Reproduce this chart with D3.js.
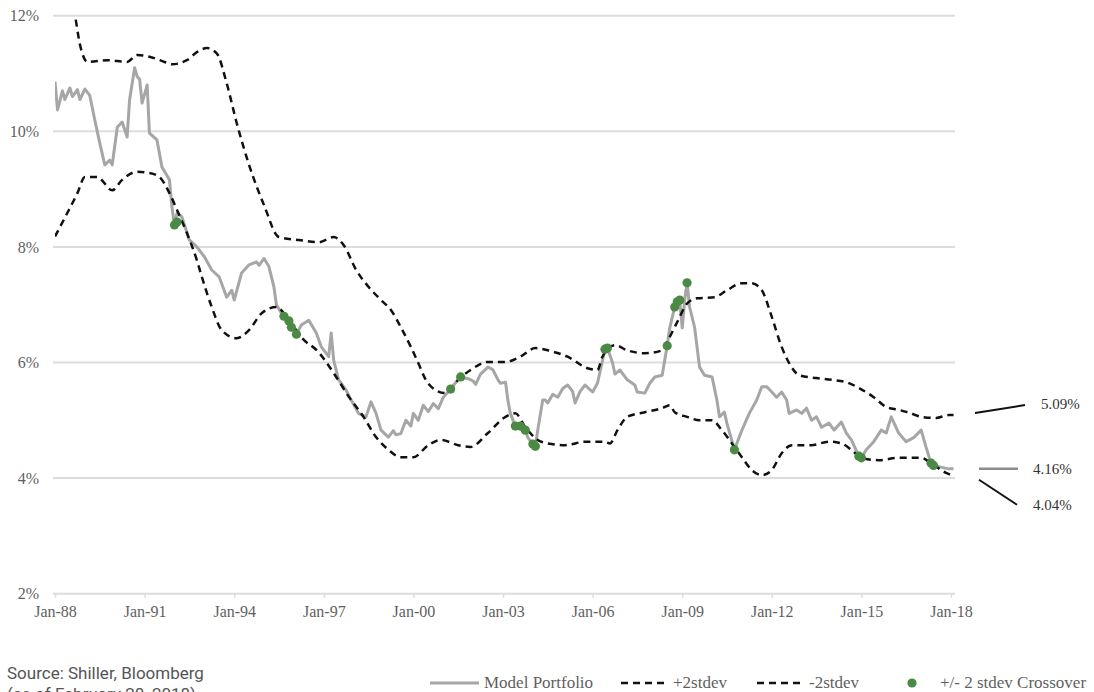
<!DOCTYPE html>
<html>
<head>
<meta charset="utf-8">
<script src="https://cdn.jsdelivr.net/npm/d3@7"></script>
<style>
  html, body { margin: 0; padding: 0; background: #fff; }
  svg { display: block; }
</style>
</head>
<body>
<svg id="chart" width="1094" height="692"></svg>
<script>
// Model portfolio yield (monthly, %)
const modelPortfolio = [
  ["1988-01",10.86],["1988-02",10.37],["1988-04",10.70],["1988-05",10.55],["1988-07",10.75],
  ["1988-08",10.60],["1988-10",10.72],["1988-11",10.55],["1989-01",10.73],["1989-03",10.62],
  ["1989-05",10.20],["1989-07",9.80],["1989-09",9.42],["1989-11",9.50],["1989-12",9.42],
  ["1990-02",10.07],["1990-04",10.16],["1990-06",9.90],["1990-07",10.54],["1990-09",11.10],
  ["1990-10",10.95],["1990-11",10.90],["1990-12",10.49],["1991-02",10.80],["1991-03",9.97],
  ["1991-06",9.85],["1991-08",9.38],["1991-11",9.16],["1991-12",8.69],["1992-01",8.38],
  ["1992-02",8.58],["1992-04",8.52],["1992-07",8.12],["1992-10",8.00],["1993-01",7.83],
  ["1993-04",7.60],["1993-07",7.48],["1993-10",7.13],["1993-12",7.25],["1994-01",7.08],
  ["1994-04",7.55],["1994-07",7.69],["1994-10",7.74],["1994-11",7.68],["1995-01",7.80],
  ["1995-03",7.66],["1995-05",7.31],["1995-06",7.00],["1995-08",6.85],["1995-09",6.80],
  ["1995-11",6.72],["1995-12",6.61],["1996-02",6.49],["1996-04",6.65],["1996-07",6.73],
  ["1996-10",6.51],["1996-12",6.27],["1997-03",6.10],["1997-04",6.51],["1997-05",6.04],
  ["1997-07",5.70],["1997-10",5.52],["1997-12",5.35],["1998-03",5.12],["1998-06",5.06],
  ["1998-08",5.32],["1998-10",5.12],["1998-12",4.83],["1999-03",4.71],["1999-05",4.82],
  ["1999-06",4.75],["1999-08",4.77],["1999-10",5.00],["1999-12",4.90],["2000-01",5.12],
  ["2000-03",5.00],["2000-05",5.26],["2000-07",5.15],["2000-09",5.29],["2000-11",5.20],
  ["2001-01",5.40],["2001-04",5.54],["2001-05",5.60],["2001-08",5.75],["2001-11",5.72],
  ["2002-01",5.68],["2002-02",5.62],["2002-04",5.80],["2002-07",5.92],["2002-08",5.90],
  ["2002-09",5.87],["2002-11",5.70],["2002-12",5.64],["2003-02",5.66],["2003-03",5.35],
  ["2003-04",5.12],["2003-06",4.90],["2003-08",4.90],["2003-10",4.83],["2003-11",4.70],
  ["2004-01",4.59],["2004-02",4.55],["2004-03",4.83],["2004-05",5.35],["2004-06",5.35],
  ["2004-07",5.30],["2004-09",5.45],["2004-11",5.40],["2005-01",5.55],["2005-03",5.61],
  ["2005-05",5.50],["2005-06",5.30],["2005-08",5.50],["2005-10",5.61],["2006-01",5.49],
  ["2006-03",5.64],["2006-06",6.23],["2006-07",6.25],["2006-09",6.00],["2006-10",5.80],
  ["2006-12",5.87],["2007-03",5.70],["2007-06",5.61],["2007-07",5.49],["2007-10",5.47],
  ["2007-12",5.64],["2008-02",5.75],["2008-05",5.78],["2008-07",6.29],["2008-08",6.60],
  ["2008-10",6.96],["2008-11",7.05],["2008-12",7.08],["2009-01",6.60],["2009-02",7.10],
  ["2009-03",7.38],["2009-04",6.96],["2009-06",6.61],["2009-08",5.92],["2009-10",5.78],
  ["2010-01",5.75],["2010-03",5.35],["2010-04",5.06],["2010-06",5.14],["2010-07",4.95],
  ["2010-10",4.49],["2011-01",4.83],["2011-04",5.12],["2011-07",5.35],["2011-09",5.58],
  ["2011-11",5.58],["2012-01",5.49],["2012-03",5.40],["2012-05",5.49],["2012-07",5.35],
  ["2012-08",5.12],["2012-11",5.18],["2013-01",5.12],["2013-03",5.21],["2013-05",5.00],
  ["2013-07",5.06],["2013-09",4.88],["2013-12",4.95],["2014-02",4.83],["2014-05",4.97],
  ["2014-07",4.78],["2014-09",4.66],["2014-12",4.38],["2015-01",4.35],["2015-03",4.49],
  ["2015-06",4.63],["2015-09",4.83],["2015-11",4.78],["2016-01",5.06],["2016-04",4.78],
  ["2016-07",4.63],["2016-10",4.70],["2017-01",4.83],["2017-03",4.54],["2017-05",4.26],
  ["2017-06",4.22],["2017-09",4.19],["2017-12",4.16],["2018-02",4.16]
];

// Upper band: +2 standard deviations (%)
const plus2Stdev = [
  ["1988-01",12.90],["1988-05",12.45],["1988-09",12.00],["1988-11",11.50],["1989-02",11.20],
  ["1989-10",11.23],["1990-06",11.20],["1990-10",11.32],["1991-03",11.29],["1991-09",11.20],
  ["1991-12",11.16],["1992-06",11.23],["1992-10",11.37],["1993-02",11.44],["1993-06",11.35],
  ["1993-10",10.83],["1994-02",10.14],["1994-07",9.42],["1995-01",8.72],["1995-07",8.17],
  ["1996-03",8.12],["1996-11",8.08],["1997-05",8.17],["1997-09",8.03],["1998-02",7.60],
  ["1998-07",7.31],["1998-12",7.08],["1999-04",6.91],["1999-08",6.61],["1999-12",6.27],
  ["2000-03",5.99],["2000-06",5.70],["2000-10",5.52],["2001-02",5.47],["2001-07",5.70],
  ["2001-12",5.87],["2002-07",6.01],["2003-02",6.01],["2003-08",6.10],["2004-02",6.25],
  ["2004-08",6.20],["2005-03",6.10],["2005-11",5.90],["2006-03",5.87],["2006-05",6.10],
  ["2006-10",6.30],["2007-03",6.21],["2007-10",6.16],["2008-05",6.21],["2008-07",6.36],
  ["2008-11",6.70],["2009-03",7.02],["2009-07",7.11],["2010-02",7.13],["2010-07",7.25],
  ["2011-01",7.37],["2011-05",7.37],["2011-09",7.25],["2012-01",6.79],["2012-05",6.27],
  ["2012-08",5.99],["2012-12",5.78],["2013-07",5.73],["2014-01",5.70],["2014-07",5.66],
  ["2014-12",5.56],["2015-06",5.40],["2015-11",5.23],["2016-04",5.18],["2016-09",5.12],
  ["2017-01",5.06],["2017-07",5.04],["2017-12",5.09],["2018-02",5.09]
];

// Lower band: -2 standard deviations (%)
const minus2Stdev = [
  ["1988-01",8.18],["1988-06",8.59],["1988-10",8.93],["1989-01",9.21],["1989-06",9.21],
  ["1989-12",8.98],["1990-04",9.16],["1990-10",9.30],["1991-03",9.28],["1991-07",9.21],
  ["1991-11",8.93],["1992-02",8.64],["1992-06",8.24],["1992-10",7.77],["1992-12",7.48],
  ["1993-04",6.96],["1993-08",6.56],["1994-02",6.42],["1994-07",6.56],["1994-12",6.85],
  ["1995-06",6.96],["1995-11",6.73],["1996-05",6.39],["1996-10",6.22],["1997-06",5.75],
  ["1997-11",5.41],["1998-05",5.06],["1998-10",4.71],["1999-03",4.49],["1999-08",4.36],
  ["2000-01",4.36],["2000-07",4.57],["2000-12",4.66],["2001-07",4.57],["2001-12",4.54],
  ["2002-07",4.78],["2003-02",5.06],["2003-06",5.12],["2003-10",4.88],["2004-03",4.66],
  ["2004-07",4.60],["2005-02",4.57],["2005-10",4.63],["2006-06",4.63],["2006-08",4.60],
  ["2006-11",4.83],["2007-03",5.06],["2007-10",5.14],["2008-05",5.21],["2008-08",5.26],
  ["2008-10",5.14],["2009-03",5.06],["2009-08",5.00],["2010-01",5.00],["2010-05",4.83],
  ["2010-09",4.60],["2011-01",4.36],["2011-05",4.14],["2011-09",4.05],["2012-01",4.14],
  ["2012-05",4.43],["2012-09",4.57],["2013-05",4.57],["2013-12",4.63],["2014-05",4.60],
  ["2014-09",4.49],["2015-01",4.35],["2015-08",4.31],["2016-04",4.35],["2017-01",4.35],
  ["2017-05",4.26],["2017-11",4.09],["2018-02",4.04]
];

// Months where the portfolio crosses a +/- 2 stdev band
const crossovers = [
  ["1992-01",8.38],["1992-02",8.43],["1995-09",6.80],["1995-11",6.72],["1995-12",6.61],
  ["1996-02",6.49],["2001-04",5.54],["2001-08",5.75],["2003-06",4.90],["2003-08",4.90],
  ["2003-10",4.83],["2004-01",4.59],["2004-02",4.55],["2006-06",6.23],["2006-07",6.25],
  ["2008-07",6.29],["2008-10",6.96],["2008-11",7.05],["2008-12",7.08],["2009-03",7.38],
  ["2010-10",4.49],["2014-12",4.38],["2015-01",4.35],["2017-05",4.26],["2017-06",4.22]
];

const yTicks = [2, 4, 6, 8, 10, 12];
const xTickLabels = ["Jan-88","Jan-91","Jan-94","Jan-97","Jan-00","Jan-03","Jan-06","Jan-09","Jan-12","Jan-15","Jan-18"];
const latestValues = { plus: 5.09, model: 4.16, minus: 4.04 };
const legendLabels = ["Model Portfolio", "+2stdev", "-2stdev", "+/- 2 stdev Crossover"];

const parseMonth = d3.timeParse("%Y-%m");
const parseTick = d3.timeParse("%b-%y");
const toPoints = arr => arr.map(([m, v]) => ({ date: parseMonth(m), value: v }));

const model = toPoints(modelPortfolio);
const upper = toPoints(plus2Stdev);
const lower = toPoints(minus2Stdev);
const cross = toPoints(crossovers);

const svg = d3.select("#chart");
const plotLeft = 55, plotRight = 951, plotTop = 15.7, plotBottom = 593.7, gridEnd = 955;

const x = d3.scaleTime()
  .domain([new Date(1988, 0, 1), new Date(2018, 0, 1)])
  .range([plotLeft, plotRight]);
const y = d3.scaleLinear().domain([2, 12]).range([plotBottom, plotTop]);

const serif = "'Liberation Serif', 'Times New Roman', serif";
const grey = "#5f5f5f";

// Gridlines
svg.append("g").selectAll("line").data(yTicks).join("line")
  .attr("x1", plotLeft - 2).attr("x2", gridEnd)
  .attr("y1", d => y(d)).attr("y2", d => y(d))
  .attr("stroke", "#dcdcdc").attr("stroke-width", 2);

// Y axis labels
const yAxis = d3.axisLeft(y).tickValues(yTicks).tickSize(0).tickPadding(0)
  .tickFormat(d => d + "%");
svg.append("g").attr("transform", "translate(39,0)").call(yAxis)
  .call(g => g.select(".domain").remove())
  .selectAll("text")
  .attr("font-family", serif).attr("font-size", 16).attr("fill", grey);

// X axis labels every three years
const xTickDates = xTickLabels.map(parseTick);
const xAxis = d3.axisBottom(x).tickValues(xTickDates).tickSize(4).tickPadding(8)
  .tickFormat(d3.timeFormat("%b-%y"));
svg.append("g").attr("transform", `translate(0,${plotBottom})`).call(xAxis)
  .call(g => g.select(".domain").remove())
  .call(g => g.selectAll("line").attr("stroke", "#dcdcdc").attr("stroke-width", 1.5))
  .selectAll("text")
  .attr("font-family", serif).attr("font-size", 16).attr("fill", grey);

// Plot clip
svg.append("clipPath").attr("id", "plotClip")
  .append("rect").attr("x", plotLeft).attr("y", plotTop)
  .attr("width", gridEnd - plotLeft).attr("height", plotBottom - plotTop);

const plot = svg.append("g").attr("clip-path", "url(#plotClip)");

const smooth = d3.line().x(d => x(d.date)).y(d => y(d.value)).curve(d3.curveMonotoneX);
const jagged = d3.line().x(d => x(d.date)).y(d => y(d.value));

plot.append("path").datum(model)
  .attr("d", jagged).attr("fill", "none")
  .attr("stroke", "#a6a6a6").attr("stroke-width", 3).attr("stroke-linejoin", "round");

[upper, lower].forEach(band => {
  plot.append("path").datum(band)
    .attr("d", smooth).attr("fill", "none")
    .attr("stroke", "#111").attr("stroke-width", 2.5)
    .attr("stroke-dasharray", "7,5");
});

plot.append("g").selectAll("circle").data(cross).join("circle")
  .attr("cx", d => x(d.date)).attr("cy", d => y(d.value)).attr("r", 4.6)
  .attr("fill", "#4a8a45");

// Latest value call-outs
const callouts = svg.append("g").attr("font-family", serif).attr("font-size", 15).attr("fill", "#333");
const yPlus = y(latestValues.plus), yModel = y(latestValues.model), yMinus = y(latestValues.minus);
callouts.append("line").attr("x1", 975).attr("y1", yPlus - 2).attr("x2", 1025).attr("y2", yPlus - 10)
  .attr("stroke", "#111").attr("stroke-width", 2);
callouts.append("text").attr("x", 1041).attr("y", yPlus - 6).text(latestValues.plus.toFixed(2) + "%");
callouts.append("line").attr("x1", 979).attr("y1", yModel).attr("x2", 1018).attr("y2", yModel)
  .attr("stroke", "#8c8c8c").attr("stroke-width", 2.5);
callouts.append("text").attr("x", 1033).attr("y", yModel + 5).text(latestValues.model.toFixed(2) + "%");
callouts.append("line").attr("x1", 979).attr("y1", yMinus + 4).attr("x2", 1017).attr("y2", yMinus + 29)
  .attr("stroke", "#111").attr("stroke-width", 2);
callouts.append("text").attr("x", 1033).attr("y", yMinus + 34).text(latestValues.minus.toFixed(2) + "%");

// Source note
svg.append("text").attr("x", 7).attr("y", 679)
  .attr("font-family", "Roboto, sans-serif").attr("font-size", 17).attr("fill", "#555")
  .text("Source: Shiller, Bloomberg");
svg.append("text").attr("x", 7).attr("y", 700)
  .attr("font-family", "Roboto, sans-serif").attr("font-size", 17).attr("fill", "#555")
  .text("(as of February 28, 2018)");

// Legend
const legend = svg.append("g").attr("font-family", serif).attr("font-size", 17).attr("fill", grey);
const ly = 683;
legend.append("line").attr("x1", 430).attr("x2", 479).attr("y1", ly).attr("y2", ly)
  .attr("stroke", "#a6a6a6").attr("stroke-width", 3);
legend.append("text").attr("x", 484).attr("y", ly + 5).text(legendLabels[0]);
legend.append("line").attr("x1", 621).attr("x2", 667).attr("y1", ly).attr("y2", ly)
  .attr("stroke", "#111").attr("stroke-width", 2.5).attr("stroke-dasharray", "7,5");
legend.append("text").attr("x", 673).attr("y", ly + 5).text(legendLabels[1]);
legend.append("line").attr("x1", 757).attr("x2", 803).attr("y1", ly).attr("y2", ly)
  .attr("stroke", "#111").attr("stroke-width", 2.5).attr("stroke-dasharray", "7,5");
legend.append("text").attr("x", 809).attr("y", ly + 5).text(legendLabels[2]);
legend.append("circle").attr("cx", 912).attr("cy", ly).attr("r", 4.6).attr("fill", "#4a8a45");
legend.append("text").attr("x", 940).attr("y", ly + 5).text(legendLabels[3]);
</script>
</body>
</html>
